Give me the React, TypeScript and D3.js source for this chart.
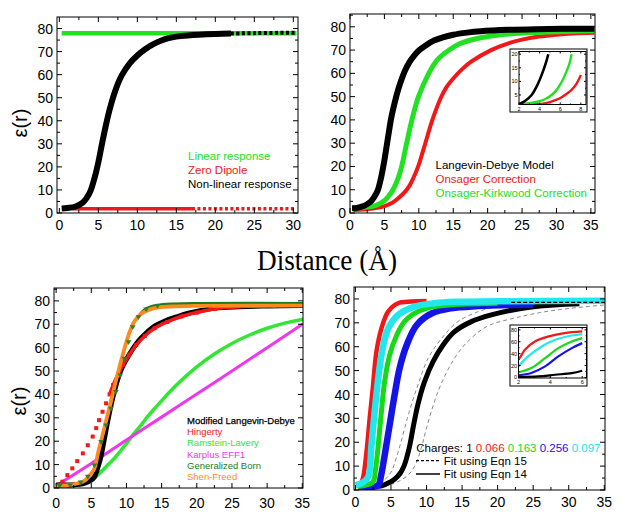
import React from 'react';
import * as d3 from 'd3';

type Pt = [number, number];

// top left panel (x 0-30)
const p1Linear: Pt[] = [[0.3, 78], [30.4, 78]];
const p1ZeroDipole: Pt[] = [[1.7, 1.8], [17, 1.8], [30.4, 1.8]];
const p1NonLinear: Pt[] = [
  [0.3, 2], [1, 2.2], [2, 2.7], [3, 4.5], [3.5, 6.5], [4, 9.6], [4.5, 15], [5, 22], [5.5, 30.5],
  [6, 38.5], [6.5, 45.5], [7, 51.3], [7.5, 56], [8, 59.7], [9, 64.8], [10, 68.3], [11, 71], [12, 73.1],
  [13, 74.7], [14, 75.8], [15, 76.5], [16.5, 77], [20, 77.6], [22, 77.8], [25, 78], [30.4, 78.2],
];

// top right panel
const p2LangevinDebye: Pt[] = [
  [0.3, 2], [1, 2.2], [2, 3], [3, 4.9], [3.5, 6.8], [4, 9.5], [4.5, 15], [5, 22.7], [5.5, 32],
  [6, 41], [6.5, 47.5], [7, 53], [7.5, 57.5], [8, 61.2], [8.6, 64.6], [9.3, 67.5], [10, 69.8],
  [11, 72], [12.2, 74.1], [13.5, 75.5], [15, 76.6], [17, 77.5], [19, 78.1], [23, 78.7], [27, 79], [35.5, 79.2],
];
const p2Onsager: Pt[] = [
  [0.5, 1.3], [2, 1.5], [3, 1.8], [4.4, 2.4], [5.5, 3.5], [6.4, 4.9], [7.5, 7.6], [8.3, 10.2], [8.8, 12.6],
  [9.5, 17], [10, 20.8], [10.5, 25.6], [11, 30.5], [11.9, 39.4], [13.2, 49.5], [14, 54], [15.1, 58.1],
  [16.3, 61.8], [17.6, 65], [20.5, 70], [22.9, 72.8], [25, 74.5], [27.5, 75.8], [30, 76.6], [32.5, 77.1], [35.5, 77.4],
];
const p2OnsagerKirkwood: Pt[] = [
  [0.3, 2], [2, 2.4], [3.9, 3.4], [5, 5.3], [5.8, 8], [6.25, 10], [7, 15], [7.55, 20.5], [8.2, 29.5],
  [9, 40], [9.95, 50], [11.45, 60], [12.6, 65.5], [14.4, 70], [16, 72.8], [18.5, 75], [22, 76.6],
  [26, 77.4], [30, 77.9], [35.5, 78.3],
];
const p2Fit: Pt[] = [[27.3, 79.4], [35.5, 79.4]];
const ins2LangevinDebye: Pt[] = [[2, 1.6], [2.58, 2.8], [3.23, 5], [3.71, 8.1], [4.2, 12.4], [4.6, 16.7], [4.84, 20]];
const ins2OnsagerKirkwood: Pt[] = [
  [2, 1.6], [3, 2], [3.87, 2.6], [4.6, 3.6], [5.16, 5], [5.6, 6.6], [5.97, 8.7], [6.3, 11], [6.6, 13.6], [6.9, 16.6], [7.1, 20],
];
const ins2Onsager: Pt[] = [[2, 1.3], [3.2, 1.5], [4.5, 1.9], [5.3, 2.8], [5.97, 3.8], [6.6, 5.4], [7.1, 6.9], [7.6, 9.3], [8, 12.4]];

// bottom left panel
const p3ModifiedLD: Pt[] = [
  [0, 1.3], [2, 1.3], [3, 1.5], [4, 2], [4.8, 3], [5.4, 4.5], [5.8, 7.5], [6.3, 12.5], [6.8, 20], [7.3, 28],
  [7.8, 35.3], [8.3, 41.5], [8.8, 46.8], [9.3, 51], [9.9, 54.5], [10.9, 59.5], [11.9, 63.5], [13, 66.8], [14, 69.2],
  [15.4, 71.3], [17, 73], [18.8, 74.7], [22.6, 76.9], [26, 77.5], [30, 77.8], [35.1, 78],
];
const p3Hingerty: Pt[] = [
  [0.5, 1.2], [0.9, 2.7], [1.6, 5.5], [2.3, 8.4], [3, 11.5], [3.8, 14.8], [4.5, 18.3], [5.2, 22], [5.7, 25.6],
  [6.1, 29], [6.6, 32.6], [7.1, 36.2], [7.6, 40], [8.1, 44], [8.8, 48.5], [9.5, 52.6], [10.4, 57], [11.4, 61.2],
  [12.6, 65], [14, 68.3], [15.8, 71], [17.8, 73.3], [20, 75], [22.6, 76.6], [25, 77.3], [28, 77.8], [31, 78], [35.1, 78.2],
];
const p3RamsteinLavery: Pt[] = [
  [1.5, 0.8], [2.6, 1.3], [4.5, 2.7], [5.5, 4.5], [6.4, 7], [7.4, 10], [8.3, 12.7], [9.2, 16], [10.2, 19.8],
  [11.1, 23.4], [12.1, 27], [13, 30.5], [14, 34], [15, 37.3], [15.9, 40.3], [17.8, 46], [20, 51.8], [22.5, 57.3],
  [25, 61.8], [27.5, 65.4], [30, 68.3], [32.5, 70.5], [35.1, 72.2],
];
const p3Karplus: Pt[] = [[0, 1], [5, 10.5], [10, 20.5], [15, 30.3], [20, 40.2], [25, 50], [30, 60], [35.1, 70.2]];
const p3GeneralizedBorn: Pt[] = [
  [0.5, 1], [2, 1.3], [3.5, 2.5], [4.5, 5], [5.43, 9.8], [6.4, 19.8], [7.1, 26.9], [7.8, 34], [8.5, 41.2],
  [9.1, 48.3], [9.7, 55.4], [10.3, 62.5], [10.9, 68.9], [11.7, 73.2], [12.8, 76.5], [14.4, 78], [16.9, 78.6],
  [20, 78.8], [35.1, 78.8],
];
const p3ShenFreed: Pt[] = [
  [0, 1], [2, 1.3], [4, 3], [4.8, 5.5], [5.4, 8], [6, 15.5], [6.6, 22.6], [7.2, 29.8], [7.8, 36.9],
  [8.35, 44], [8.95, 51.1], [9.6, 58.3], [10.3, 65.4], [11.1, 71.1], [12.2, 74.7], [14, 76.9], [16.4, 77.6],
  [20, 77.9], [35.1, 78],
];

// bottom right panel
const p4Charge1: Pt[] = [
  [0.4, 1], [2, 1.3], [3.7, 1.8], [4.7, 3], [5.5, 4.5], [6.3, 7], [6.9, 10.5], [7.3, 14.5], [7.7, 19.5],
  [8.2, 27.5], [8.8, 36], [9.7, 45.2], [10.9, 53.6], [12.3, 60.6], [13.9, 66.2], [16.3, 70.5], [19.1, 73.3],
  [22.9, 75.8], [26, 77], [29, 77.7], [31.5, 78],
];
const p4Charge066: Pt[] = [
  [0.3, 2], [0.8, 3], [1.1, 5.5], [1.55, 15.7], [2, 29.8], [2.48, 43.8], [2.95, 57.8], [3.65, 67.6],
  [4.6, 74.7], [6, 78.2], [7.9, 78.9], [10, 79.1],
];
const p4Charge097: Pt[] = [
  [0, 2], [1, 3], [1.8, 5.5], [2.25, 18.5], [2.7, 32.6], [3.2, 46.6], [3.75, 57.8], [4.6, 67.6], [6, 73.3],
  [8.3, 76.8], [11.1, 78.2], [14, 78.8], [20, 79], [35.1, 79.2],
];
const p4Charge163: Pt[] = [
  [0.3, 1.5], [1.5, 2], [2.5, 3.5], [2.8, 8], [3.2, 18.5], [3.65, 32.6], [4.1, 45.2], [4.8, 56.4], [5.8, 64.8],
  [6.9, 70.5], [8.8, 74.7], [11.1, 76.8], [14.9, 77.8], [20, 78.2],
];
const p4Charge256: Pt[] = [
  [0.5, 1], [2, 1.3], [3.2, 2], [3.6, 6], [4.1, 14.3], [4.8, 27], [5.5, 39.6], [6.2, 50.8], [7.2, 60.6],
  [8.6, 69], [10.7, 73.9], [13.5, 76.1], [17.2, 77], [22, 77.5], [25, 77.6],
];
const p4FitA: Pt[] = [
  [1.5, 1], [3, 2], [4, 4], [5, 7.4], [5.7, 13], [6.4, 20], [7.3, 30], [8, 37], [8.8, 44], [10.2, 55],
  [12.1, 63.4], [14.4, 70.5], [17.3, 74.7], [20.5, 77.2], [25, 78.4], [28, 78.7],
];
const p4FitB: Pt[] = [
  [2, 0.8], [4, 1.5], [6, 3.5], [7.5, 6.5], [8.5, 11], [9.3, 18], [10, 26], [11, 36], [12, 44], [13.5, 53],
  [15.3, 60.6], [18.5, 68.5], [22.4, 72], [26, 74.3], [30, 76], [35.1, 77.5],
];
const p4Fit15: Pt[] = [[21.9, 78.6], [35.1, 78.6]];
const ins4Charge066: Pt[] = [[2, 30], [2.2, 38], [2.4, 46.5], [3.03, 60.5], [3.9, 69], [4.9, 74.6], [6, 77.4]];
const ins4Charge097: Pt[] = [[2, 18.5], [2.6, 35.3], [3.46, 52.1], [4.3, 63.3], [5.35, 70.6], [6, 72.9]];
const ins4Charge163: Pt[] = [[2, 8.4], [2.8, 15.7], [3.67, 32.5], [4.5, 49.3], [5.35, 60.5], [6, 66.1]];
const ins4Charge256: Pt[] = [[2, 3.4], [2.8, 7.3], [3.67, 18.5], [4.5, 35.3], [5.35, 49.3], [6, 57.7]];
const ins4Charge1: Pt[] = [[2, 1], [3.25, 1.7], [4.3, 4.5], [5.35, 7.3], [6, 11.2]];

const xTicks30 = [0, 5, 10, 15, 20, 25, 30];
const xTicks35 = [0, 5, 10, 15, 20, 25, 30, 35];
const yTicks = [0, 10, 20, 30, 40, 50, 60, 70, 80];
const ins2XTicks = [2, 4, 6, 8];
const ins2YTicks = [5, 10, 15, 20];
const ins4XTicks = [2, 4, 6];
const ins4YTicks = [0, 20, 40, 60, 80];

const p1Legend = ['Linear response', 'Zero Dipole', 'Non-linear response'];
const p2Legend = ['Langevin-Debye Model', 'Onsager Correction', 'Onsager-Kirkwood Correction'];
const p3Legend = ['Modified Langevin-Debye', 'Hingerty', 'Ramstein-Lavery', 'Karplus EFF1', 'Generalized Born', 'Shen-Freed'];
const p4Charges = ['1', '0.066', '0.163', '0.256', '0.097'];
const p4FitLabels = ['Fit using Eqn 15', 'Fit using Eqn 14'];

const SANS = 'Liberation Sans, Arial, Helvetica, sans-serif';
const SERIF = 'Liberation Serif, Times New Roman, serif';

type Scale = d3.ScaleLinear<number, number>;

function curve(xs: Scale, ys: Scale, data: Pt[]) {
  return d3.line<Pt>().x(d => xs(d[0])).y(d => ys(d[1])).curve(d3.curveCatmullRom.alpha(0.5))(data) || '';
}

function mids(t: number[], max: number) {
  const step = t[1] - t[0];
  return t.map(v => v + step / 2).filter(v => v < max - 0.05);
}

function Axes({ xs, ys, xTicks, yTicks, fontSize = 14, major = 5, minor = 3, labelGap = 17, ylabelGap = 4 }: any) {
  const [x0, x1] = xs.range();
  const [y0, y1] = ys.range();
  const xm = mids(xTicks, xs.domain()[1]);
  const ym = mids(yTicks, ys.domain()[1]);
  return (
    <g>
      <rect x={x0} y={y1} width={x1 - x0} height={y0 - y1} fill="none" stroke="#000" strokeWidth={1} />
      {xTicks.map((t: number) => (
        <g key={'x' + t}>
          <line x1={xs(t)} x2={xs(t)} y1={y0} y2={y0 - major} stroke="#000" />
          <line x1={xs(t)} x2={xs(t)} y1={y1} y2={y1 + major} stroke="#000" />
          <text x={xs(t)} y={y0 + labelGap} textAnchor="middle" fontSize={fontSize} fontFamily={SANS}>{t}</text>
        </g>
      ))}
      {xm.map((t: number) => (
        <g key={'xm' + t}>
          <line x1={xs(t)} x2={xs(t)} y1={y0} y2={y0 - minor} stroke="#000" />
          <line x1={xs(t)} x2={xs(t)} y1={y1} y2={y1 + minor} stroke="#000" />
        </g>
      ))}
      {yTicks.map((t: number) => (
        <g key={'y' + t}>
          <line x1={x0} x2={x0 + major} y1={ys(t)} y2={ys(t)} stroke="#000" />
          <line x1={x1} x2={x1 - major} y1={ys(t)} y2={ys(t)} stroke="#000" />
          <text x={x0 - ylabelGap} y={ys(t) + fontSize * 0.36} textAnchor="end" fontSize={fontSize} fontFamily={SANS}>{t}</text>
        </g>
      ))}
      {ym.map((t: number) => (
        <g key={'ym' + t}>
          <line x1={x0} x2={x0 + minor} y1={ys(t)} y2={ys(t)} stroke="#000" />
          <line x1={x1} x2={x1 - minor} y1={ys(t)} y2={ys(t)} stroke="#000" />
        </g>
      ))}
    </g>
  );
}

function Clip({ id, xs, ys }: any) {
  const [x0, x1] = xs.range();
  const [y0, y1] = ys.range();
  return (
    <clipPath id={id}>
      <rect x={x0} y={y1} width={x1 - x0} height={y0 - y1} />
    </clipPath>
  );
}

const C = {
  green: '#22e022',
  red: '#f01818',
  black: '#000',
  blue: '#1414e6',
  cyan: '#22e8ee',
  magenta: '#ee36ee',
  dkgreen: '#1d7a1d',
  orange: '#ff8a1c',
  gray: '#8a8a8a',
};

function Path({ xs, ys, data, color, w, dash }: any) {
  return <path d={curve(xs, ys, data)} fill="none" stroke={color} strokeWidth={w} strokeDasharray={dash} strokeLinejoin="round" />;
}

function Panel1() {
  const xs = d3.scaleLinear().domain([-0.3, 30.6]).range([57, 298]);
  const ys = d3.scaleLinear().domain([0, 85]).range([213, 17]);
  return (
    <g>
      <Clip id="c1" xs={xs} ys={ys} />
      <g clipPath="url(#c1)">
        <Path xs={xs} ys={ys} data={p1Linear} color={C.green} w={4.5} />
        <Path xs={xs} ys={ys} data={p1ZeroDipole.filter(d => d[0] <= 17)} color={C.red} w={3.5} />
        <Path xs={xs} ys={ys} data={p1ZeroDipole.filter(d => d[0] >= 17)} color={C.red} w={3.5} dash="3 2.5" />
        <Path xs={xs} ys={ys} data={p1NonLinear.filter(d => d[0] <= 22)} color={C.black} w={6} />
        <Path xs={xs} ys={ys} data={p1NonLinear.filter(d => d[0] >= 22)} color={C.black} w={4} dash="3 2.5" />
      </g>
      <Axes xs={xs} ys={ys} xTicks={xTicks30} yTicks={yTicks} />
      {p1Legend.map((s, i) => (
        <text key={s} x={188} y={159.5 + i * 14} fontSize={11.5} fontFamily={SANS} fill={[C.green, C.red, C.black][i]}>{s}</text>
      ))}
    </g>
  );
}

function Panel2() {
  const xs = d3.scaleLinear().domain([0, 35.6]).range([350, 595]);
  const ys = d3.scaleLinear().domain([0, 85.5]).range([213, 14]);
  const ix = d3.scaleLinear().domain([2, 8.5]).range([519, 586]);
  const iy = d3.scaleLinear().domain([1.5, 21]).range([104.5, 51.5]);
  return (
    <g>
      <Clip id="c2" xs={xs} ys={ys} />
      <g clipPath="url(#c2)">
        <Path xs={xs} ys={ys} data={p2Onsager} color={C.red} w={4} />
        <Path xs={xs} ys={ys} data={p2OnsagerKirkwood} color={C.green} w={5} />
        <Path xs={xs} ys={ys} data={p2LangevinDebye} color={C.black} w={6} />
        <Path xs={xs} ys={ys} data={p2Fit} color={C.black} w={1.3} dash="4 2" />
      </g>
      <Axes xs={xs} ys={ys} xTicks={xTicks35} yTicks={yTicks} />
      <rect x={510} y={49} width={77} height={63} fill="#fff" stroke="#000" strokeWidth={1} />
      <Clip id="ci2" xs={ix} ys={iy} />
      <g clipPath="url(#ci2)">
        <Path xs={ix} ys={iy} data={ins2Onsager} color={C.red} w={2.4} />
        <Path xs={ix} ys={iy} data={ins2OnsagerKirkwood} color={C.green} w={2.4} />
        <Path xs={ix} ys={iy} data={ins2LangevinDebye} color={C.black} w={2.6} />
      </g>
      <Axes xs={ix} ys={iy} xTicks={ins2XTicks} yTicks={ins2YTicks} fontSize={5.5} major={2} minor={1} labelGap={6} ylabelGap={1.5} />
      {p2Legend.map((s, i) => (
        <text key={s} x={435.5} y={169 + i * 14.2} fontSize={11.5} fontFamily={SANS} fill={[C.black, C.red, C.green][i]}>{s}</text>
      ))}
    </g>
  );
}

function Panel3() {
  const xs = d3.scaleLinear().domain([-0.3, 35.1]).range([54, 303]);
  const ys = d3.scaleLinear().domain([0, 85.5]).range([488, 288]);
  const tri = d3.symbol().type(d3.symbolTriangle).size(14)() || '';
  const colors = [C.black, C.red, '#33e633', C.magenta, C.dkgreen, C.orange];
  return (
    <g>
      <Clip id="c3" xs={xs} ys={ys} />
      <g clipPath="url(#c3)">
        <Path xs={xs} ys={ys} data={p3RamsteinLavery} color={colors[2]} w={3.5} />
        <Path xs={xs} ys={ys} data={p3Karplus} color={C.magenta} w={3} />
        <Path xs={xs} ys={ys} data={p3ModifiedLD} color={C.black} w={5} />
        <Path xs={xs} ys={ys} data={p3Hingerty.filter(d => d[0] >= 7.5)} color={C.red} w={3.5} />
        {p3Hingerty.map((d, i) => (
          <rect key={i} x={xs(d[0]) - 2} y={ys(d[1]) - 2} width={4} height={4} fill={C.red} />
        ))}
        <Path xs={xs} ys={ys} data={p3GeneralizedBorn.filter(d => d[0] >= 11.5)} color={C.dkgreen} w={3.5} />
        <Path xs={xs} ys={ys} data={p3ShenFreed} color={C.orange} w={3.8} />
        {p3GeneralizedBorn.filter(d => d[0] < 16).map((d, i) => (
          <path key={i} d={tri} transform={`translate(${xs(d[0])},${ys(d[1])}) rotate(180)`} fill="#2f7f2f" />
        ))}
      </g>
      <Axes xs={xs} ys={ys} xTicks={xTicks35} yTicks={yTicks} labelGap={20} />
      {p3Legend.map((s, i) => (
        <text key={s} x={187} y={424 + i * 11.2} fontSize={9.5} fontFamily={SANS} fill={colors[i]}
          stroke={i === 0 ? '#000' : 'none'} strokeWidth={0.25}>{s}</text>
      ))}
    </g>
  );
}

function Panel4() {
  const xs = d3.scaleLinear().domain([-0.2, 35.1]).range([354, 605]);
  const ys = d3.scaleLinear().domain([0, 85]).range([490, 287]);
  const ix = d3.scaleLinear().domain([2, 6.27]).range([518.5, 586.5]);
  const iy = d3.scaleLinear().domain([-1, 84]).range([378, 327.5]);
  const chargeColors = [C.black, C.red, '#18d818', C.blue, '#22e0f0'];
  return (
    <g>
      <Clip id="c4" xs={xs} ys={ys} />
      <g clipPath="url(#c4)">
        <Path xs={xs} ys={ys} data={p4FitA} color={C.gray} w={1} dash="4 3" />
        <Path xs={xs} ys={ys} data={p4FitB} color={C.gray} w={1} dash="4 3" />
        <Path xs={xs} ys={ys} data={p4Charge1} color={C.black} w={5} />
        <Path xs={xs} ys={ys} data={p4Charge256} color={C.blue} w={6.5} />
        <Path xs={xs} ys={ys} data={p4Charge163} color={'#18d818'} w={5} />
        <Path xs={xs} ys={ys} data={p4Charge066} color={C.red} w={4.5} />
        <Path xs={xs} ys={ys} data={p4Charge097} color={C.cyan} w={6.5} />
        <Path xs={xs} ys={ys} data={p4Fit15} color={C.black} w={1.3} dash="4 2" />
      </g>
      <Axes xs={xs} ys={ys} xTicks={xTicks35} yTicks={yTicks} />
      <rect x={510} y={325} width={77} height={61} fill="#fff" stroke="#000" strokeWidth={1} />
      <Clip id="ci4" xs={ix} ys={iy} />
      <g clipPath="url(#ci4)">
        <Path xs={ix} ys={iy} data={ins4Charge1} color={C.black} w={2.2} />
        <Path xs={ix} ys={iy} data={ins4Charge256} color={C.blue} w={2.2} />
        <Path xs={ix} ys={iy} data={ins4Charge163} color={'#18d818'} w={2.2} />
        <Path xs={ix} ys={iy} data={ins4Charge097} color={C.cyan} w={2.2} />
        <Path xs={ix} ys={iy} data={ins4Charge066} color={C.red} w={2.2} />
      </g>
      <Axes xs={ix} ys={iy} xTicks={ins4XTicks} yTicks={ins4YTicks} fontSize={5.5} major={2} minor={1} labelGap={6} ylabelGap={1.5} />
      <text x={416.3} y={451.7} fontSize={11.5} fontFamily={SANS}>
        <tspan>Charges: </tspan>
        {p4Charges.map((c, i) => (
          <tspan key={c} fill={chargeColors[i]}>{c + (i < p4Charges.length - 1 ? ' ' : '')}</tspan>
        ))}
      </text>
      <line x1={416} x2={440} y1={460.7} y2={460.7} stroke="#000" strokeWidth={1.2} strokeDasharray="3 2" />
      <line x1={416} x2={440} y1={474} y2={474} stroke="#000" strokeWidth={1.5} />
      {p4FitLabels.map((s, i) => (
        <text key={s} x={443.7} y={464.8 + i * 13.3} fontSize={11.5} fontFamily={SANS}>{s}</text>
      ))}
    </g>
  );
}

export default function App() {
  return (
    <svg width={624} height={521} style={{ position: 'absolute', left: 0, top: 0, background: '#fff' }}>
      <rect width={624} height={521} fill="#fff" />
      <Panel1 />
      <Panel2 />
      <Panel3 />
      <Panel4 />
      <text transform="translate(27,123) rotate(-90)" textAnchor="middle" fontSize={20} fontFamily={SANS}>ε(r)</text>
      <text transform="translate(26,401) rotate(-90)" textAnchor="middle" fontSize={20} fontFamily={SANS}>ε(r)</text>
      <text x={327} y={270} textAnchor="middle" fontSize={29} fontFamily={SERIF} textLength={140} lengthAdjust="spacingAndGlyphs">Distance (Å)</text>
    </svg>
  );
}
